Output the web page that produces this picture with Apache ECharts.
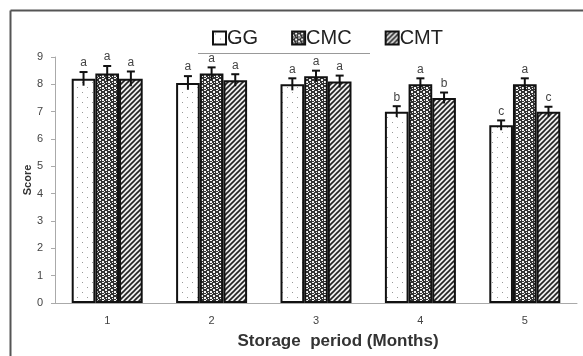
<!DOCTYPE html>
<html>
<head>
<meta charset="utf-8">
<script src="https://cdn.jsdelivr.net/npm/echarts@6/dist/echarts.min.js"></script>
<style>
  html, body { margin: 0; padding: 0; background: #fff; }
  #chart { width: 583px; height: 356px; }
</style>
</head>
<body>
<div id="chart"></div>
<script>
var months = ['1', '2', '3', '4', '5'];
var seriesNames = ['GG', 'CMC', 'CMT'];
var ggScore = [8.2, 8.05, 8.0, 7.0, 6.5];
var cmcScore = [8.4, 8.4, 8.3, 8.0, 8.0];
var cmtScore = [8.2, 8.15, 8.1, 7.5, 7.0];
var ggErr = [0.25, 0.25, 0.22, 0.2, 0.18];
var cmcErr = [0.27, 0.22, 0.2, 0.22, 0.22];
var cmtErr = [0.27, 0.22, 0.22, 0.2, 0.18];
var ggLetters = ['a', 'a', 'a', 'b', 'c'];
var cmcLetters = ['a', 'a', 'a', 'a', 'a'];
var cmtLetters = ['a', 'a', 'a', 'b', 'c'];
var yTicks = [0, 1, 2, 3, 4, 5, 6, 7, 8, 9];

// patterns for the bars
function makePattern(size, draw) {
	var c = document.createElement('canvas');
	c.width = size;
	c.height = size;
	var ctx = c.getContext('2d');
	draw(ctx, size);
	return { image: c, repeat: 'repeat' };
}
var dotsPattern = makePattern(10, function(ctx, s) {
	ctx.fillStyle = '#fff';
	ctx.fillRect(0, 0, s, s);
	ctx.fillStyle = '#999';
	ctx.fillRect(2, 2, 1, 1);
	ctx.fillRect(7, 7, 1, 1);
});
var speckPattern = makePattern(6, function(ctx, s) {
	ctx.fillStyle = '#333';
	ctx.fillRect(0, 0, s, s);
	ctx.fillStyle = '#f4f4f4';
	ctx.fillRect(0, 0, 2, 1);
	ctx.fillRect(3, 1, 2, 2);
	ctx.fillRect(0, 3, 2, 2);
	ctx.fillRect(4, 4, 1, 1);
	ctx.fillRect(2, 5, 1, 1);
});
var hatchPattern = makePattern(5, function(ctx, s) {
	ctx.fillStyle = '#eee';
	ctx.fillRect(0, 0, s, s);
	ctx.strokeStyle = '#222';
	ctx.lineWidth = 1.6;
	ctx.beginPath();
	ctx.moveTo(-1, s + 1);
	ctx.lineTo(s + 1, -1);
	ctx.moveTo(-1, 1);
	ctx.lineTo(1, -1);
	ctx.moveTo(s - 1, s + 1);
	ctx.lineTo(s + 1, s - 1);
	ctx.stroke();
});

var chart = echarts.init(document.getElementById('chart'));
var catGap = 0.32;

function errorSeries(values, errs, letters, idx) {
	var data = [];
	for (var i = 0; i < values.length; i++) {
		data.push([i, values[i], errs[i], letters[i]]);
	}
	return {
		type: 'custom',
		z: 5,
		silent: true,
		data: data,
		renderItem: function(params, api) {
			var xi = api.value(0);
			var v = api.value(1);
			var e = api.value(2);
			var bw = api.size([1, 0])[0] * (1 - catGap) / 3;
			var off = (idx - 1) * bw;
			var top = api.coord([xi, v + e]);
			var bot = api.coord([xi, v - e]);
			var x = top[0] + off;
			var st = { stroke: '#111', lineWidth: 2 };
			return {
				type: 'group',
				children: [
					{ type: 'line', shape: { x1: x, y1: top[1], x2: x, y2: bot[1] }, style: st },
					{ type: 'line', shape: { x1: x - 4, y1: top[1], x2: x + 4, y2: top[1] }, style: st },
					{ type: 'text', style: { text: api.value(3), x: x, y: top[1] - 3, align: 'center', verticalAlign: 'bottom',
						font: '12px "Liberation Sans", Arial', fill: '#444' } }
				]
			};
		}
	};
}

function barSeries(name, values, pattern) {
	return {
		name: name,
		type: 'bar',
		barGap: 0,
		barCategoryGap: (catGap * 100) + '%',
		data: values,
		itemStyle: { color: pattern, borderColor: '#111', borderWidth: 2 }
	};
}

var option = {
	animation: false,
	backgroundColor: '#fff',
	textStyle: { fontFamily: '"Liberation Sans", Arial, sans-serif' },
	grid: { left: 55, right: 6, top: 57, bottom: 53 },
	legend: {
		data: seriesNames,
		left: 207,
		top: 23,
		itemWidth: 13,
		itemHeight: 13,
		itemGap: 33,
		icon: 'rect',
		textStyle: { fontSize: 20, color: '#222', padding: [0, 0, 0, -4] }
	},
	graphic: [
		{ type: 'line', shape: { x1: 10.5, y1: 10.5, x2: 583, y2: 10.5 }, style: { stroke: '#555', lineWidth: 2 } },
		{ type: 'line', shape: { x1: 10.5, y1: 10.5, x2: 10.5, y2: 356 }, style: { stroke: '#555', lineWidth: 2 } },
		{ type: 'line', shape: { x1: 198, y1: 53.5, x2: 370, y2: 53.5 }, style: { stroke: '#999', lineWidth: 1 } }
	],
	xAxis: {
		type: 'category',
		data: months,
		name: 'Storage  period (Months)',
		nameLocation: 'middle',
		nameGap: 30,
		nameTextStyle: { fontSize: 17, fontWeight: 'bold', color: '#333', padding: [0, 0, 0, 44] },
		axisLine: { lineStyle: { color: '#aaa' } },
		axisTick: { length: 4, lineStyle: { color: '#aaa' } },
		axisLabel: { fontSize: 11, color: '#444', margin: 12 }
	},
	yAxis: {
		type: 'value',
		min: yTicks[0],
		max: yTicks[yTicks.length - 1],
		interval: 1,
		name: 'Score',
		nameLocation: 'middle',
		nameGap: 22,
		nameMoveOverlap: false,
		nameTextStyle: { fontSize: 11, fontWeight: 'bold', color: '#333' },
		axisLine: { show: true, lineStyle: { color: '#aaa' } },
		axisTick: { show: true, length: 4, lineStyle: { color: '#aaa' } },
		axisLabel: { fontSize: 11, color: '#444', margin: 12 },
		splitLine: { show: false }
	},
	series: [
		barSeries('GG', ggScore, dotsPattern),
		barSeries('CMC', cmcScore, speckPattern),
		barSeries('CMT', cmtScore, hatchPattern),
		errorSeries(ggScore, ggErr, ggLetters, 0),
		errorSeries(cmcScore, cmcErr, cmcLetters, 1),
		errorSeries(cmtScore, cmtErr, cmtLetters, 2)
	]
};
chart.setOption(option);
</script>
</body>
</html>
